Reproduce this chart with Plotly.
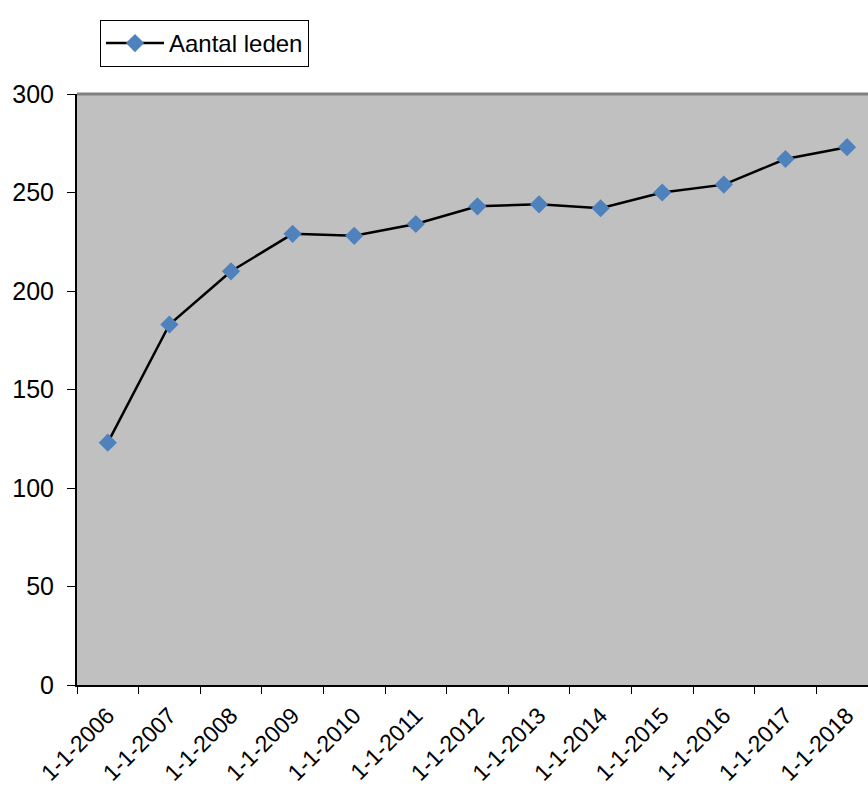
import plotly.graph_objects as go

categories = ["1-1-2006", "1-1-2007", "1-1-2008", "1-1-2009", "1-1-2010", "1-1-2011",
              "1-1-2012", "1-1-2013", "1-1-2014", "1-1-2015", "1-1-2016", "1-1-2017", "1-1-2018"]
members = [123, 183, 210, 229, 228, 234, 243, 244, 242, 250, 254, 267, 273]
y_ticks = [0, 50, 100, 150, 200, 250, 300]

W, H = 868, 787
L, R, T, B = 77, 0, 94, 102
x_range = [-0.5, 12.34]
boundaries = [i - 0.5 for i in range(len(categories) + 1)]

fig = go.Figure()
fig.add_trace(go.Scatter(
    x=categories, y=members, mode="lines+markers", name="Aantal leden",
    line=dict(color="black", width=2.5),
    marker=dict(symbol="diamond", size=14, color="#4F81BD", line=dict(width=0)),
))

fig.update_layout(
    width=W, height=H,
    margin=dict(l=L, r=R, t=T, b=B, autoexpand=False),
    paper_bgcolor="white", plot_bgcolor="#C0C0C0",
    font=dict(family="Liberation Sans, Arial", size=24, color="black"),
    showlegend=True,
    legend=dict(x=(100 - L) / (W - L - R), y=1 + (T - 20) / (H - T - B),
                xanchor="left", yanchor="top",
                bordercolor="black", borderwidth=1, bgcolor="white",
                font=dict(size=24), itemwidth=58,
                tracegroupgap=0),
    xaxis=dict(type="category", range=x_range, tickson="boundaries",
               ticks="outside", ticklen=7, tickcolor="black", tickwidth=1,
               showline=True, linecolor="black", linewidth=2,
               showgrid=False, tickangle=-45, tickfont=dict(size=23), zeroline=False,
               ticklabelstandoff=6),
    xaxis2=dict(overlaying="x", range=x_range, tickvals=boundaries, ticks="inside",
                ticklen=8, tickcolor="black", tickwidth=1, showticklabels=False,
                showline=False, showgrid=False, zeroline=False, side="bottom"),
    yaxis=dict(range=[0, 300], tickvals=y_ticks, ticks="outside", ticklen=8,
               tickcolor="black", tickwidth=1, showline=True, linecolor="black",
               linewidth=2, showgrid=False, zeroline=False, tickfont=dict(size=25),
               ticklabelstandoff=8),
    yaxis2=dict(overlaying="y", range=[0, 300], tickvals=y_ticks, ticks="inside",
                ticklen=8, tickcolor="black", tickwidth=1, showticklabels=False,
                showline=False, showgrid=False, zeroline=False, side="left"),
)

fig.add_shape(type="line", xref="paper", yref="paper", x0=0, x1=1, y0=1, y1=1,
              line=dict(color="#808080", width=3), layer="below")

fig.write_html("out.html", config={"displayModeBar": False},
               post_script="document.body.style.margin='0';document.body.style.overflow='hidden';")
